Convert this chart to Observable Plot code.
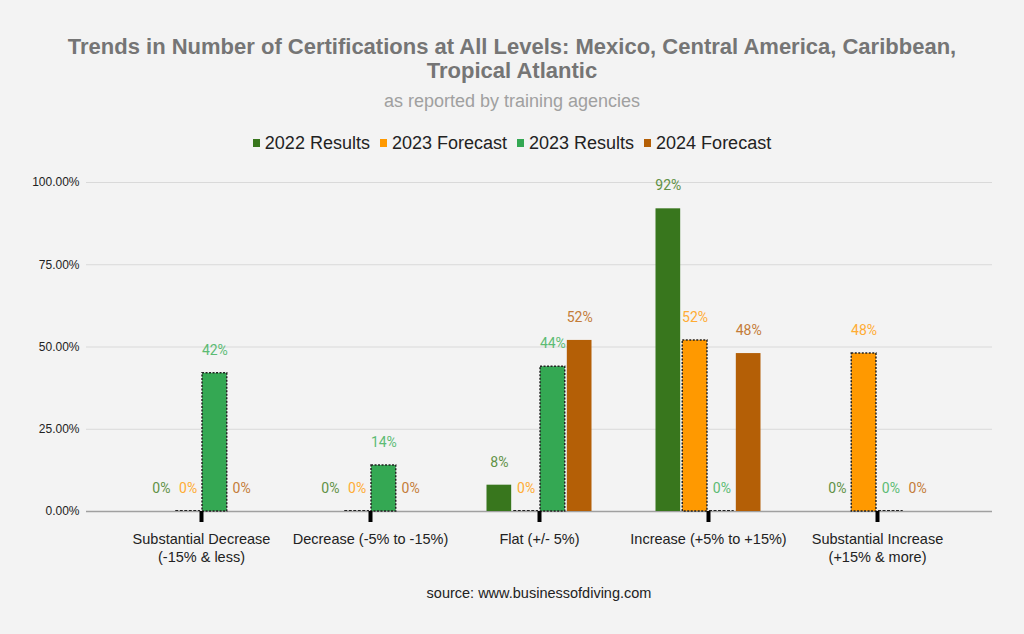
<!DOCTYPE html>
<html>
<head>
<meta charset="utf-8">
<script src="https://cdn.jsdelivr.net/npm/d3@7"></script>
<script src="https://cdn.jsdelivr.net/npm/@observablehq/plot@0.6"></script>
<style>
  html, body { margin: 0; padding: 0; background: #f3f3f3; }
  body { width: 1024px; height: 634px; position: relative; overflow: hidden; font-family: "Liberation Sans", Arial, sans-serif; }
  #title { position: absolute; top: 35px; left: 52px; width: 920px; text-align: center; font-size: 22px; font-weight: bold; color: #757575; line-height: 24px; }
  #subtitle { position: absolute; top: 91px; left: 0; width: 1024px; text-align: center; font-size: 18px; color: #a0a0a0; line-height: 20px; }
  #legend { position: absolute; top: 133px; left: 0; width: 1024px; display: flex; justify-content: center; gap: 10px; font-size: 18px; color: #222; line-height: 20px; }
  #legend .item { display: flex; align-items: center; }
  #legend .sw { width: 7px; height: 8px; margin-right: 5px; display: inline-block; }
  #chart { position: absolute; top: 170px; left: 0; }
  #source { position: absolute; top: 583px; left: 86px; width: 906px; text-align: center; font-size: 14.5px; color: #222; line-height: 20px; }
</style>
</head>
<body>
<div id="title">Trends in Number of Certifications at All Levels: Mexico, Central America, Caribbean, Tropical Atlantic</div>
<div id="subtitle">as reported by training agencies</div>
<div id="legend"></div>
<div id="chart"></div>
<div id="source">source: www.businessofdiving.com</div>
<script>
const categories = [
  "Substantial Decrease\n(-15% & less)",
  "Decrease (-5% to -15%)",
  "Flat (+/- 5%)",
  "Increase (+5% to +15%)",
  "Substantial Increase\n(+15% & more)"
];
const seriesNames = ["2022 Results", "2023 Forecast", "2023 Results", "2024 Forecast"];
const seriesColors = ["#38761d", "#ff9900", "#34a853", "#b45f06"];
const labelColors = ["#5f9145", "#ffac33", "#5cbb73", "#c47c38"];
const dottedSeries = [false, true, true, false];
const values2022Results = [0, 0, 0.08, 0.92, 0];
const values2023Forecast = [0, 0, 0, 0.52, 0.48];
const values2023Results = [0.42, 0.14, 0.44, 0, 0];
const values2024Forecast = [0, 0, 0.52, 0.48, 0];
const yTicks = [0, 0.25, 0.5, 0.75, 1];

const seriesValues = [values2022Results, values2023Forecast, values2023Results, values2024Forecast];

// legend
const legend = document.getElementById("legend");
seriesNames.forEach((s, i) => {
  const it = document.createElement("span");
  it.className = "item";
  it.innerHTML = `<span class="sw" style="background:${seriesColors[i]}"></span>${s}`;
  legend.appendChild(it);
});

const paddingInner = 0.37;
const paddingOuter = 0.35;
const plotWidth = 1024, marginLeft = 86, marginRight = 32;
const frameW = plotWidth - marginLeft - marginRight;
const step = frameW / (categories.length - paddingInner + 2 * paddingOuter);
const bandwidth = step * (1 - paddingInner);
const slot = bandwidth / seriesNames.length;

const marks = [
  Plot.gridY(yTicks, {stroke: "#d9d9d9", strokeOpacity: 1, strokeWidth: 1}),
  Plot.ruleY([0], {stroke: "#a0a0a0", strokeWidth: 1.5})
];

seriesNames.forEach((s, i) => {
  const data = categories.map((c, j) => ({category: c, value: seriesValues[i][j], series: s}));
  const insetLeft = i * slot + 0.5;
  const insetRight = (seriesNames.length - 1 - i) * slot + 0.5;
  const barOpts = {x: "category", y: "value", fill: seriesColors[i], insetLeft, insetRight};
  if (dottedSeries[i]) {
    Object.assign(barOpts, {stroke: "#222", strokeWidth: 1.5, strokeDasharray: "2 1.5"});
  }
  marks.push(Plot.barY(data.filter(d => d.value > 0), barOpts));
  if (dottedSeries[i]) {
    marks.push(Plot.tickY(data.filter(d => d.value === 0), {
      x: "category", y: "value", stroke: "#222", strokeWidth: 1, strokeDasharray: "3 1.5",
      insetLeft, insetRight, dy: -1
    }));
  }
  marks.push(Plot.text(data, {
    x: "category", y: "value", text: d => Math.round(d.value * 100) + "%",
    fill: labelColors[i], dx: (i - (seriesNames.length - 1) / 2) * slot, dy: -23,
    fontSize: 14, fontFamily: "Roboto, sans-serif"
  }));
});

marks.push(Plot.axisY({ticks: yTicks, tickFormat: d3.format(".2%"), tickSize: 0, tickPadding: 7, fontSize: 12, fill: "#222", label: null}));
marks.push(Plot.axisX({tickSize: 11, tickPadding: 9, stroke: "black", strokeWidth: 4, fill: "#222", fontSize: 14.5, lineHeight: 1.24, label: null}));

const chart = Plot.plot({
  width: plotWidth,
  height: 400,
  marginTop: 12,
  marginBottom: 59,
  marginLeft,
  marginRight,
  style: {background: "transparent", fontFamily: "'Liberation Sans', Arial, sans-serif"},
  x: {domain: categories, paddingInner, paddingOuter, label: null},
  y: {domain: [0, 1], label: null},
  marks
});
document.getElementById("chart").appendChild(chart);
</script>
</body>
</html>
